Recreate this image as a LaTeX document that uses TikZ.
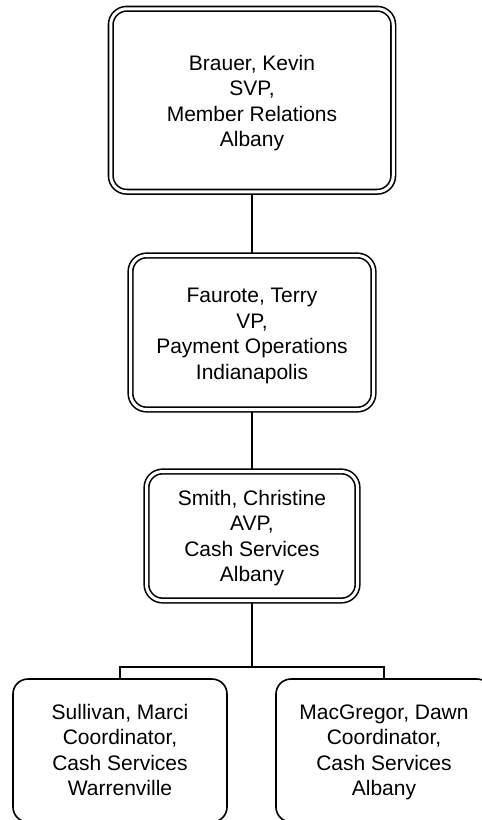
\documentclass[tikz,border=0pt]{standalone}
\usepackage{fontspec}
\setmainfont{Liberation Sans}
\newcommand{\boxtext}[2]{\raisebox{#1}[\height][\depth]{\begin{tabular}{@{}c@{}}#2\end{tabular}}}
\begin{document}
\begin{tikzpicture}[x=1pt,y=-1pt,
  txt/.style={font=\fontsize{21}{25.5}\selectfont,inner sep=0pt},
  dbox/.style={txt,draw,line width=1.6pt,double=white,double distance=3pt,rounded corners=16pt,outer sep=2.3pt},
  sbox/.style={txt,draw,line width=1.6pt,rounded corners=15pt,outer sep=0pt},
  conn/.style={line width=1.6pt}]
\useasboundingbox (0,0) rectangle (482,820);
\node[dbox,minimum width=282.5pt,minimum height=183pt] (kevin) at (252,100.25)
  {\boxtext{-3pt}{Brauer, Kevin\\SVP,\\Member Relations\\Albany}};
\node[dbox,minimum width=243pt,minimum height=154pt] (terry) at (252,332.5)
  {\boxtext{-3.5pt}{Faurote, Terry\\VP,\\Payment Operations\\Indianapolis}};
\node[dbox,minimum width=211pt,minimum height=129pt] (christine) at (252,536)
  {\boxtext{-2.5pt}{Smith, Christine\\AVP,\\Cash Services\\Albany}};
\node[sbox,minimum width=214pt,minimum height=143pt] (marci) at (120,750.5)
  {\boxtext{-2pt}{Sullivan, Marci\\Coordinator,\\Cash Services\\Warrenville}};
\node[sbox,minimum width=216pt,minimum height=143pt] (dawn) at (384,750.5)
  {\boxtext{-2pt}{MacGregor, Dawn\\Coordinator,\\Cash Services\\Albany}};
\coordinate (j) at (252,667);
\draw[conn] (kevin.south) -- (terry.north);
\draw[conn] (terry.south) -- (christine.north);
\draw[conn] (christine.south) -- (j);
\draw[conn] (marci.north) |- (j) -| (dawn.north);
\end{tikzpicture}
\end{document}
